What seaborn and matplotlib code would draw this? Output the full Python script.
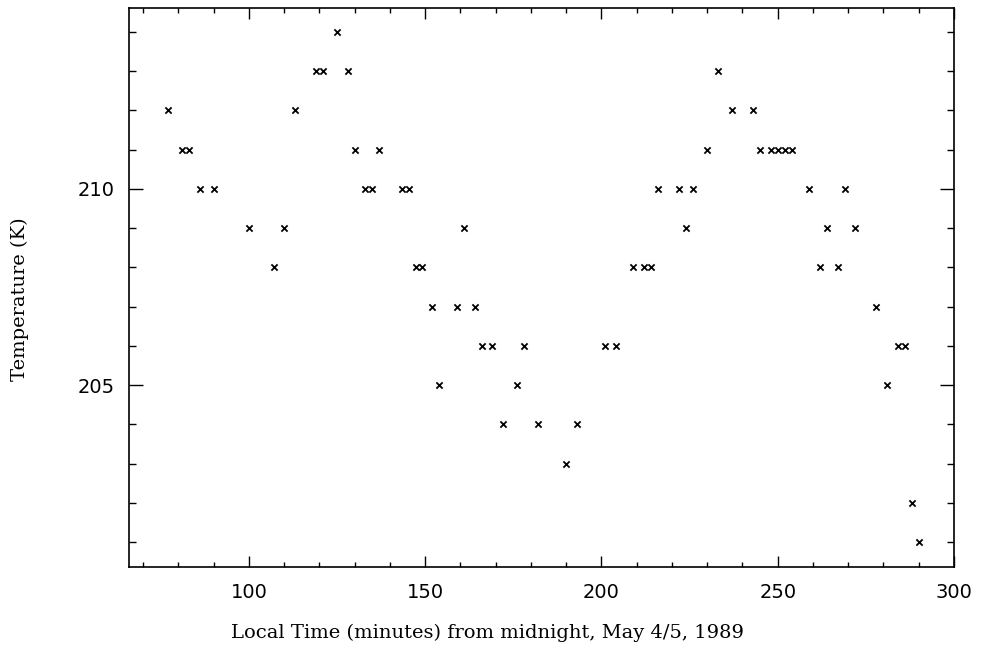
import matplotlib
matplotlib.use("Agg")
import matplotlib.pyplot as plt
from matplotlib.ticker import MultipleLocator
import seaborn as sns
import pandas as pd

# Local time (minutes from midnight) and temperature (K)
time_min = [125,
            119, 121, 128, 233,
            77, 113, 237, 243,
            81, 83, 130, 137, 230, 245, 248, 250, 252, 254,
            86, 90, 133, 135, 143.5, 145.5, 216, 222, 226, 259, 269,
            100, 110, 161, 224, 264, 272,
            107, 147.5, 149, 209, 212, 214, 262, 267,
            152, 159, 164, 278,
            166, 169, 178, 201, 204, 284, 286,
            154, 176, 281,
            172, 182, 193,
            190,
            288,
            290]
temp_k = [214,
          213, 213, 213, 213,
          212, 212, 212, 212,
          211, 211, 211, 211, 211, 211, 211, 211, 211, 211,
          210, 210, 210, 210, 210, 210, 210, 210, 210, 210, 210,
          209, 209, 209, 209, 209, 209,
          208, 208, 208, 208, 208, 208, 208, 208,
          207, 207, 207, 207,
          206, 206, 206, 206, 206, 206, 206,
          205, 205, 205,
          204, 204, 204,
          203,
          202,
          201]

x_label = "Local Time (minutes) from midnight, May 4/5, 1989"
y_label = "Temperature (K)"

df = pd.DataFrame({"time": time_min, "temp": temp_k})

sns.set_theme(style="white")
plt.rcParams["font.family"] = ["DejaVu Sans"]
plt.rcParams["text.color"] = "black"
plt.rcParams["axes.labelcolor"] = "black"
plt.rcParams["xtick.color"] = "black"
plt.rcParams["ytick.color"] = "black"

fig = plt.figure(figsize=(9.81, 6.62), dpi=100)
ax = fig.add_axes([129 / 981, 1 - 567.3 / 662, (954 - 129) / 981, (567.3 - 8.3) / 662])

sns.scatterplot(data=df, x="time", y="temp", marker="x", color="black",
                s=20, linewidth=1.3, ax=ax, legend=False)

ax.set_xlim(66, 300)
ax.set_ylim(200.36, 214.6)

ax.xaxis.set_major_locator(MultipleLocator(50))
ax.xaxis.set_minor_locator(MultipleLocator(10))
ax.yaxis.set_major_locator(MultipleLocator(5))
ax.yaxis.set_minor_locator(MultipleLocator(1))

ax.tick_params(axis="x", which="both", direction="in", top=True, bottom=True,
               color="black", labelcolor="black", width=1.0)
ax.tick_params(axis="y", which="both", direction="in", left=True, right=True,
               color="black", labelcolor="black", width=1.0)
ax.tick_params(axis="x", which="major", length=8, pad=11, labelsize=14)
ax.tick_params(axis="x", which="minor", length=3.5)
ax.tick_params(axis="y", which="major", length=10, pad=10, labelsize=14)
ax.tick_params(axis="y", which="minor", length=5)

for sp in ax.spines.values():
    sp.set_color("black")
    sp.set_linewidth(1.2)

ax.set_xlabel(x_label, family="DejaVu Serif", fontsize=14, color="black")
ax.set_ylabel(y_label, family="DejaVu Serif", fontsize=14, color="black")
ax.xaxis.set_label_coords(0.435, -0.118)
ax.xaxis.label.set_verticalalignment("center")
ax.yaxis.set_label_coords((20 - 129) / 825, 0.48)
ax.yaxis.label.set_verticalalignment("center")

fig.savefig("out.png", dpi=100, facecolor="white")
